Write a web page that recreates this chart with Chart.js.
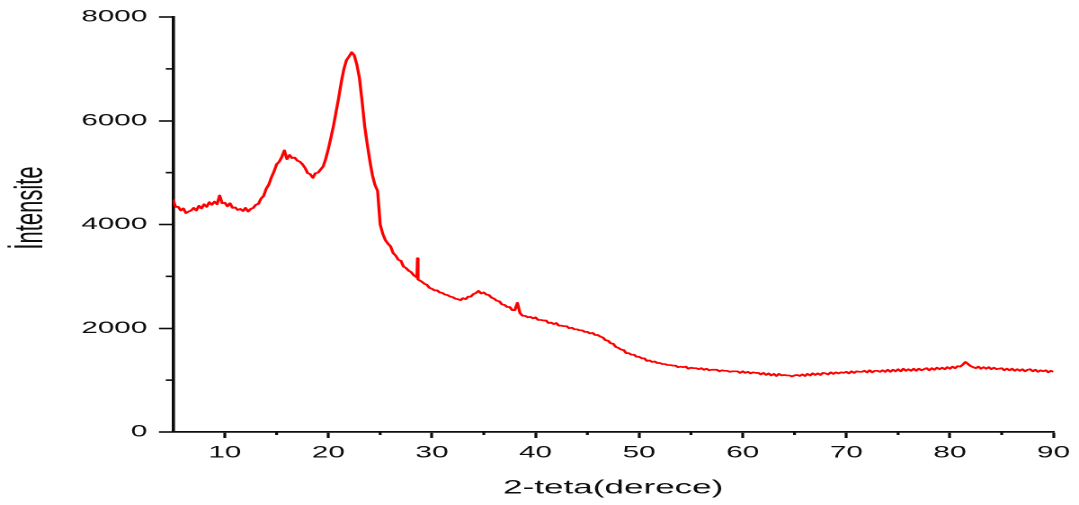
<!DOCTYPE html>
<html>
<head>
<meta charset="utf-8">
<script src="https://cdn.jsdelivr.net/npm/chart.js@4.4.0/dist/chart.umd.min.js"></script>
<style>
    html, body { margin: 0; padding: 0; background: #fff; overflow: hidden; }
    /* el original esta estirado en horizontal, se dibuja angosto y se estira */
    #contenedor { width: 600px; height: 505px; transform: scaleX(1.7983); transform-origin: 0 0; }
</style>
</head>
<body>
<div id="contenedor"><canvas id="id_grafica_xrd"></canvas></div>
<script>
//------------------------DATOS-------------------------------------------------
const angulos = [
    5.00, 5.25, 5.50, 5.75, 6.00, 6.25, 6.50, 6.75, 7.00, 7.25, 7.50, 7.75, 8.00, 8.25, 8.50, 8.75, 9.00, 9.25, 9.50, 9.75,
    10.00, 10.25, 10.50, 10.75, 11.00, 11.25, 11.50, 11.75, 12.00, 12.25, 12.50, 12.75, 13.00, 13.25, 13.50, 13.75, 14.00, 14.25, 14.50, 14.75,
    15.00, 15.25, 15.50, 15.75, 16.00, 16.25, 16.50, 16.75, 17.00, 17.25, 17.50, 17.75, 18.00, 18.25, 18.50, 18.75, 19.00, 19.25, 19.50, 19.75,
    20.00, 20.25, 20.50, 20.75, 21.00, 21.25, 21.50, 21.75, 22.00, 22.25, 22.50, 22.75, 23.00, 23.25, 23.50, 23.75, 24.00, 24.25, 24.50, 24.75,
    25.00, 25.25, 25.50, 25.75, 26.00, 26.25, 26.50, 26.75, 27.00, 27.25, 27.50, 27.75, 28.00, 28.25, 28.55, 28.60, 28.65, 29.00, 29.25, 29.50, 29.75,
    30.00, 30.25, 30.50, 30.75, 31.00, 31.25, 31.50, 31.75, 32.00, 32.25, 32.50, 32.75, 33.00, 33.25, 33.50, 33.75, 34.00, 34.25, 34.50, 34.75,
    35.00, 35.25, 35.50, 35.75, 36.00, 36.25, 36.50, 36.75, 37.00, 37.25, 37.50, 37.75, 38.00, 38.25, 38.50, 38.75, 39.00, 39.25, 39.50, 39.75,
    40.00, 40.25, 40.50, 40.75, 41.00, 41.25, 41.50, 41.75, 42.00, 42.25, 42.50, 42.75, 43.00, 43.25, 43.50, 43.75, 44.00, 44.25, 44.50, 44.75,
    45.00, 45.25, 45.50, 45.75, 46.00, 46.25, 46.50, 46.75, 47.00, 47.25, 47.50, 47.75, 48.00, 48.25, 48.50, 48.75, 49.00, 49.25, 49.50, 49.75,
    50.00, 50.25, 50.50, 50.75, 51.00, 51.25, 51.50, 51.75, 52.00, 52.25, 52.50, 52.75, 53.00, 53.25, 53.50, 53.75, 54.00, 54.25, 54.50, 54.75,
    55.00, 55.25, 55.50, 55.75, 56.00, 56.25, 56.50, 56.75, 57.00, 57.25, 57.50, 57.75, 58.00, 58.25, 58.50, 58.75, 59.00, 59.25, 59.50, 59.75,
    60.00, 60.25, 60.50, 60.75, 61.00, 61.25, 61.50, 61.75, 62.00, 62.25, 62.50, 62.75, 63.00, 63.25, 63.50, 63.75, 64.00, 64.25, 64.50, 64.75,
    65.00, 65.25, 65.50, 65.75, 66.00, 66.25, 66.50, 66.75, 67.00, 67.25, 67.50, 67.75, 68.00, 68.25, 68.50, 68.75, 69.00, 69.25, 69.50, 69.75,
    70.00, 70.25, 70.50, 70.75, 71.00, 71.25, 71.50, 71.75, 72.00, 72.25, 72.50, 72.75, 73.00, 73.25, 73.50, 73.75, 74.00, 74.25, 74.50, 74.75,
    75.00, 75.25, 75.50, 75.75, 76.00, 76.25, 76.50, 76.75, 77.00, 77.25, 77.50, 77.75, 78.00, 78.25, 78.50, 78.75, 79.00, 79.25, 79.50, 79.75,
    80.00, 80.25, 80.50, 80.75, 81.00, 81.25, 81.50, 81.75, 82.00, 82.25, 82.50, 82.75, 83.00, 83.25, 83.50, 83.75, 84.00, 84.25, 84.50, 84.75,
    85.00, 85.25, 85.50, 85.75, 86.00, 86.25, 86.50, 86.75, 87.00, 87.25, 87.50, 87.75, 88.00, 88.25, 88.50, 88.75, 89.00, 89.25, 89.50, 89.75,
    90.00
];
const intensidades = [
    4480, 4340, 4340, 4270, 4310, 4220, 4250, 4270, 4320, 4270, 4360, 4310, 4390, 4340, 4430, 4380, 4440, 4390, 4560, 4410,
    4420, 4350, 4410, 4320, 4330, 4280, 4300, 4260, 4320, 4250, 4300, 4320, 4380, 4400, 4500, 4550, 4690, 4770, 4910, 5020,
    5160, 5210, 5300, 5430, 5260, 5340, 5280, 5290, 5230, 5210, 5160, 5090, 4990, 4970, 4900, 4990, 5000, 5060, 5120, 5270,
    5460, 5680, 5910, 6180, 6450, 6750, 7000, 7170, 7240, 7320, 7260, 7080, 6820, 6380, 5900, 5550, 5230, 4950, 4760, 4650,
    4000, 3820, 3700, 3630, 3580, 3450, 3400, 3320, 3300, 3190, 3160, 3110, 3080, 3020, 2980, 3350, 2940, 2900, 2860, 2840, 2780,
    2760, 2730, 2730, 2690, 2680, 2650, 2640, 2610, 2600, 2570, 2560, 2540, 2580, 2560, 2610, 2610, 2660, 2680, 2720, 2670,
    2690, 2650, 2640, 2590, 2570, 2530, 2520, 2460, 2450, 2410, 2410, 2350, 2350, 2490, 2290, 2240, 2240, 2210, 2220, 2190,
    2210, 2160, 2160, 2150, 2150, 2100, 2110, 2080, 2100, 2050, 2050, 2040, 2040, 2000, 2010, 1980, 1980, 1960, 1960, 1930,
    1930, 1900, 1910, 1870, 1870, 1840, 1820, 1770, 1760, 1710, 1700, 1640, 1620, 1590, 1580, 1520, 1520, 1490, 1490, 1450,
    1450, 1420, 1420, 1370, 1380, 1350, 1360, 1330, 1330, 1310, 1310, 1290, 1290, 1280, 1280, 1250, 1260, 1250, 1260, 1220,
    1240, 1230, 1230, 1210, 1230, 1200, 1220, 1190, 1200, 1200, 1200, 1170, 1190, 1180, 1180, 1160, 1170, 1170, 1170, 1140,
    1170, 1140, 1160, 1130, 1150, 1140, 1140, 1110, 1140, 1100, 1130, 1090, 1120, 1080, 1120, 1090, 1100, 1090, 1090, 1070,
    1090, 1100, 1080, 1110, 1080, 1120, 1090, 1130, 1100, 1130, 1100, 1140, 1130, 1110, 1150, 1120, 1150, 1130, 1150, 1140,
    1160, 1130, 1170, 1140, 1170, 1160, 1160, 1180, 1150, 1190, 1150, 1180, 1180, 1160, 1190, 1160, 1200, 1160, 1200, 1170,
    1210, 1170, 1220, 1180, 1210, 1180, 1220, 1180, 1220, 1190, 1210, 1230, 1190, 1230, 1200, 1240, 1210, 1240, 1210, 1250,
    1220, 1260, 1230, 1270, 1260, 1300, 1350, 1310, 1270, 1250, 1230, 1260, 1220, 1250, 1220, 1250, 1210, 1240, 1210, 1220,
    1230, 1190, 1220, 1190, 1220, 1180, 1210, 1180, 1210, 1170, 1200, 1210, 1170, 1200, 1160, 1190, 1170, 1190, 1150, 1180,
    1160
];
const ticksX = [10, 20, 30, 40, 50, 60, 70, 80, 90];
const ticksMenoresX = [15, 25, 35, 45, 55, 65, 75, 85];
const ticksY = [0, 2000, 4000, 6000, 8000];
const ticksMenoresY = [1000, 3000, 5000, 7000];
const tituloX = '2-teta(derece)';
const tituloY = 'İntensite';

const colorLinea = '#ff0000';
const colorEjes = '#0d0d0d';
const fuente = '"Liberation Sans", Arial, sans-serif';

//------------------------PLUGIN: ticks menores y titulo Y---------------------------
const pluginExtras = {
    id: 'extras',
    afterDraw(chart) {
        const { ctx, scales: { x, y } } = chart;
        ctx.save();
        ctx.strokeStyle = colorEjes;
        ctx.lineWidth = 1.6;
        ticksMenoresX.forEach(v => {
            const px = x.getPixelForValue(v);
            ctx.beginPath();
            ctx.moveTo(px, y.bottom);
            ctx.lineTo(px, y.bottom + 3);
            ctx.stroke();
        });
        ticksMenoresY.forEach(v => {
            const py = y.getPixelForValue(v);
            ctx.beginPath();
            ctx.moveTo(x.left, py);
            ctx.lineTo(x.left - 4, py);
            ctx.stroke();
        });
        // titulo del eje Y (no va centrado en el eje en el original)
        ctx.translate(23.4, 208);
        ctx.rotate(-Math.PI / 2);
        ctx.font = '22px ' + fuente;
        ctx.fillStyle = colorEjes;
        ctx.textAlign = 'center';
        ctx.textBaseline = 'alphabetic';
        ctx.fillText(tituloY, 0, 0);
        ctx.restore();
    }
};

//------------------------GENERACION DE LA GRAFICA---------------------------
let ctx1 = document.getElementById('id_grafica_xrd').getContext('2d');
let chart1 = new Chart(ctx1, {
    type: 'line',
    data: {
        datasets: [{
            data: angulos.map((a, i) => ({ x: a, y: intensidades[i] })),
            borderColor: colorLinea,
            borderWidth: 1.7,
            borderJoinStyle: 'round',
            pointRadius: 0,
            tension: 0,
            fill: false
        }]
    },
    options: {
        responsive: true,
        maintainAspectRatio: false,
        animation: false,
        devicePixelRatio: 2,
        layout: { padding: { top: 17, right: 12.8, left: 0, bottom: 0 } },
        plugins: {
            legend: { display: false },
            tooltip: { enabled: false }
        },
        scales: {
            x: {
                type: 'linear',
                min: 5,
                max: 90,
                afterBuildTicks: (scale) => { scale.ticks = ticksX.map(v => ({ value: v })); },
                afterFit: (scale) => { scale.height = 73; },
                border: { display: true, color: colorEjes, width: 1.8 },
                grid: { drawOnChartArea: false, drawTicks: true, tickLength: 6, tickWidth: 1.6, tickColor: colorEjes },
                ticks: { color: colorEjes, font: { family: fuente, size: 16.5 }, padding: 5, maxRotation: 0 },
                title: { display: true, text: tituloX, color: colorEjes, font: { family: fuente, size: 19.5 }, padding: { top: 0, bottom: 5 } }
            },
            y: {
                min: 0,
                max: 8000,
                afterBuildTicks: (scale) => { scale.ticks = ticksY.map(v => ({ value: v })); },
                afterFit: (scale) => { scale.width = 96.2; },
                border: { display: true, color: colorEjes, width: 1.8 },
                grid: { drawOnChartArea: false, drawTicks: true, tickLength: 7.8, tickWidth: 1.6, tickColor: colorEjes },
                ticks: { color: colorEjes, font: { family: fuente, size: 16.5 }, padding: 6.5, callback: (v) => String(v) }
            }
        }
    },
    plugins: [pluginExtras]
});
</script>
</body>
</html>
